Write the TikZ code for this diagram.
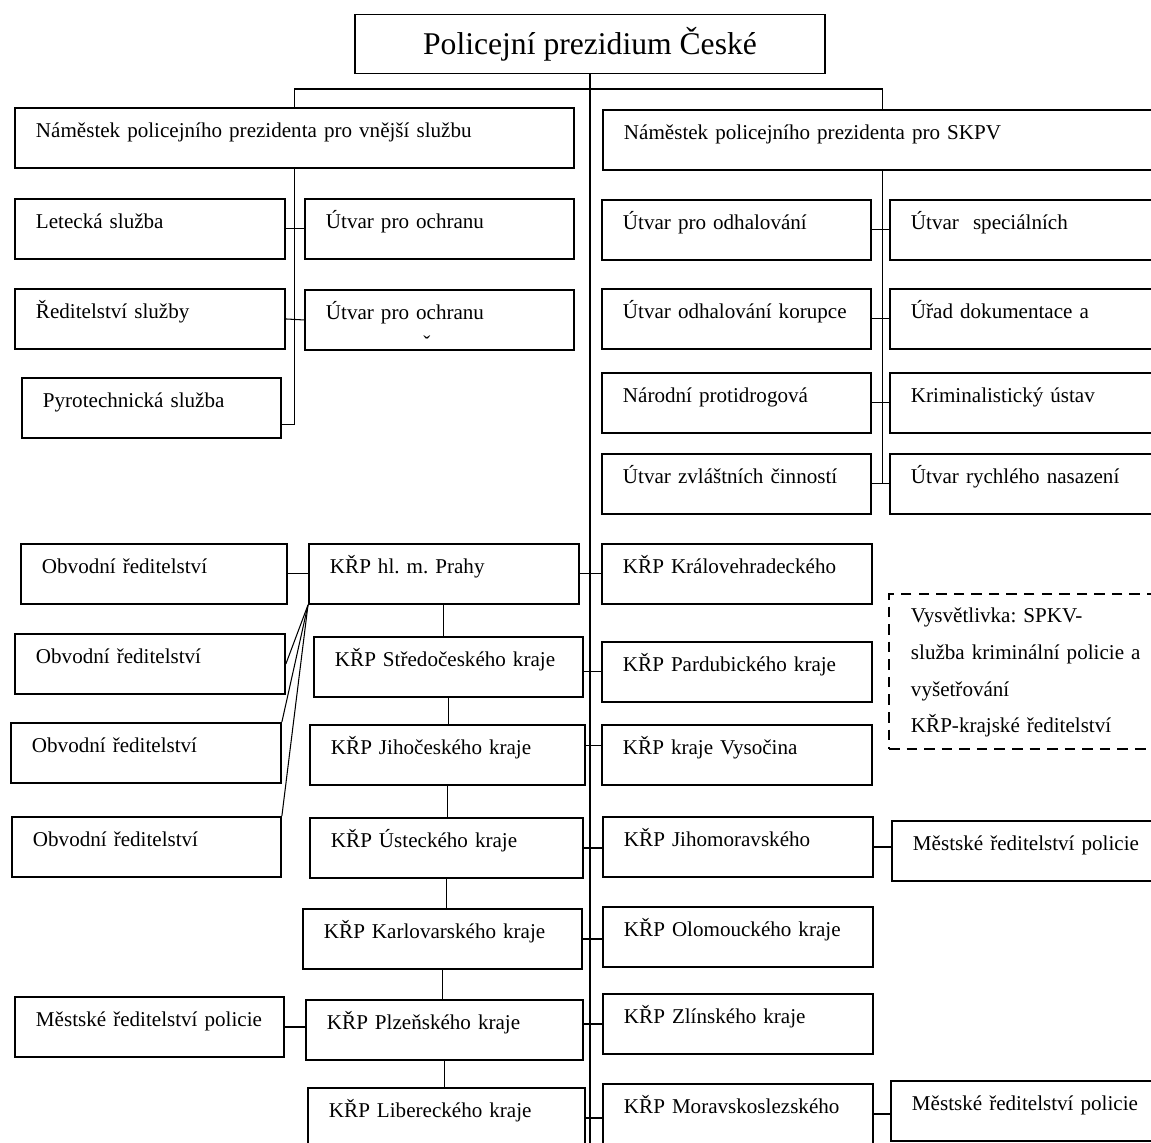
\documentclass[tikz,border=0pt]{standalone}
\usepackage{fontspec}
\setmainfont{Liberation Serif}
\frenchspacing
\begin{document}
\begin{tikzpicture}[x=0.02cm, y=-0.02cm,
    box/.style={draw, rectangle, line width=1.1pt, anchor=north west, inner xsep=0.42cm, inner ysep=0pt,
      text height=0.6cm, text depth=0.6cm, align=left, font=\fontsize{12}{14}\selectfont},
    link/.style={line width=0.6pt}]
  \useasboundingbox (0,0) rectangle (1151,1142);
  \clip (0,0) rectangle (1151,1142);

  % top
  \node[draw, rectangle, line width=1.1pt, minimum width=9.4cm, minimum height=1.18cm,
    font=\fontsize{18}{20}\selectfont] (pp) at (590,44) {Policejní prezidium České};
  \node[box, text width=10.34cm] (nvs) at (14,107) {Náměstek policejního prezidenta pro vnější službu};
  \node[box, text width=10.36cm] (nskpv) at (602,109) {Náměstek policejního prezidenta pro SKPV};

  % vnejsi sluzba
  \node[box, text width=4.56cm] (let) at (14,198) {Letecká služba};
  \node[box, text width=4.54cm] (uo1) at (304,198) {Útvar pro ochranu};
  \node[box, text width=4.56cm] (red) at (14,288) {Ředitelství služby};
  \node[box, text width=4.54cm] (uo2) at (304,289) {Útvar pro ochranu};
  \node[anchor=base, inner sep=0pt, font=\fontsize{12}{14}\selectfont] (caron) at ([xshift=2.46cm]uo2.south west) {ˇ};
  \node[box, text width=4.34cm] (pyro) at (21,377) {Pyrotechnická služba};

  % SKPV
  \node[box, text width=4.54cm] (uodh) at (601,199) {Útvar pro odhalování};
  \node[box, text width=4.58cm] (usp) at (889,199) {Útvar\ \ speciálních};
  \node[box, text width=4.54cm] (ukor) at (601,288) {Útvar odhalování korupce};
  \node[box, text width=4.58cm] (udok) at (889,288) {Úřad dokumentace a};
  \node[box, text width=4.54cm] (nar) at (601,372) {Národní protidrogová};
  \node[box, text width=4.58cm] (krim) at (889,372) {Kriminalistický ústav};
  \node[box, text width=4.54cm] (uzc) at (601,453) {Útvar zvláštních činností};
  \node[box, text width=4.58cm] (urn) at (889,453) {Útvar rychlého nasazení};

  % krajska reditelstvi
  \node[box, text width=4.48cm] (obv1) at (20,543) {Obvodní ředitelství};
  \node[box, text width=4.56cm] (praha) at (308,543) {KŘP hl. m. Prahy};
  \node[box, text width=4.56cm] (hk) at (601,543) {KŘP Královehradeckého};
  \node[box, text width=4.56cm] (obv2) at (14,633) {Obvodní ředitelství};
  \node[box, text width=4.54cm] (stc) at (313,636) {KŘP Středočeského kraje};
  \node[box, text width=4.56cm] (pard) at (601,641) {KŘP Pardubického kraje};
  \node[box, text width=4.56cm] (obv3) at (10,722) {Obvodní ředitelství};
  \node[box, text width=4.66cm] (jc) at (309,724) {KŘP Jihočeského kraje};
  \node[box, text width=4.56cm] (vys) at (601,724) {KŘP kraje Vysočina};
  \node[box, text width=4.54cm] (obv4) at (11,816) {Obvodní ředitelství};
  \node[box, text width=4.62cm] (ust) at (309,817) {KŘP Ústeckého kraje};
  \node[box, text width=4.56cm] (jm) at (602,816) {KŘP Jihomoravského};
  \node[box, text width=4.54cm] (mest2) at (891,820) {Městské ředitelství policie};
  \node[box, text width=4.74cm] (kv) at (302,908) {KŘP Karlovarského kraje};
  \node[box, text width=4.56cm] (olo) at (602,906) {KŘP Olomouckého kraje};
  \node[box, text width=4.54cm] (mest1) at (14,996) {Městské ředitelství policie};
  \node[box, text width=4.70cm] (plz) at (305,999) {KŘP Plzeňského kraje};
  \node[box, text width=4.56cm] (zl) at (602,993) {KŘP Zlínského kraje};
  \node[box, text width=4.70cm] (lib) at (307,1087) {KŘP Libereckého kraje};
  \node[box, text width=4.56cm] (ms) at (602,1083) {KŘP Moravskoslezského};
  \node[box, text width=4.56cm] (mest3) at (890,1080) {Městské ředitelství policie};

  % legend
  \node[box, dash pattern=on 6pt off 4pt, text width=5cm, inner xsep=0.44cm, text height=0.58cm,
    text depth=2.52cm, font=\fontsize{12}{20.8}\selectfont] (legend) at (888,593)
    {Vysvětlivka: SPKV-\\služba kriminální policie a\\vyšetřování\\KŘP-krajské ředitelství};

  % lines
  \coordinate (bus) at (0,89);
  \coordinate (foot) at (0,1150);
  \coordinate (pyroin) at ([yshift=-0.34cm]pyro.east);
  \coordinate (jcvys) at ([yshift=0.19cm]vys.west);

  \draw[link] (pp.south) -- (pp.south |- foot);
  \draw[link] (nvs.north) -- (nvs.north |- bus) -- (nskpv.north |- bus) -- (nskpv.north);
  \draw[link] (nvs.south) -- (nvs.south |- pyroin) -- (pyroin);
  \draw[link] (let.east) -- (uo1.west);
  \draw[link] (red.east) -- (uo2.west);
  \draw[link] (nskpv.south) -- (nskpv.south |- uzc.east);
  \draw[link] (uodh.east) -- (usp.west);
  \draw[link] (ukor.east) -- (udok.west);
  \draw[link] (nar.east) -- (krim.west);
  \draw[link] (uzc.east) -- (urn.west);

  \draw[link] (obv1.east) -- (praha.west);
  \draw[link] (praha.east) -- (hk.west);
  \draw[link] (stc.east |- pard.west) -- (pard.west);
  \draw[link] (jc.east |- jcvys) -- (jcvys);
  \draw[link] (ust.east) -- (ust.east -| jm.west);
  \draw[link] (jm.east) -- (jm.east -| mest2.west);
  \draw[link] (kv.east) -- (kv.east -| olo.west);
  \draw[link] (plz.east |- zl.west) -- (zl.west);
  \draw[link] (mest1.east) -- (mest1.east -| plz.west);
  \draw[link] (lib.east) -- (lib.east -| ms.west);
  \draw[link] (ms.east) -- (ms.east -| mest3.west);

  \draw[link] (praha.south) -- (praha.south |- stc.north);
  \draw[link] (stc.south) -- (stc.south |- jc.north);
  \draw[link] (jc.south) -- (jc.south |- ust.north);
  \draw[link] (ust.south) -- (ust.south |- kv.north);
  \draw[link] (kv.south) -- (kv.south |- plz.north);
  \draw[link] (plz.south) -- (plz.south |- lib.north);

  \draw[link] (praha.south west) -- (obv2.east);
  \draw[link] (praha.south west) -- (obv3.north east);
  \draw[link] (praha.south west) -- (obv4.north east);
\end{tikzpicture}
\end{document}
